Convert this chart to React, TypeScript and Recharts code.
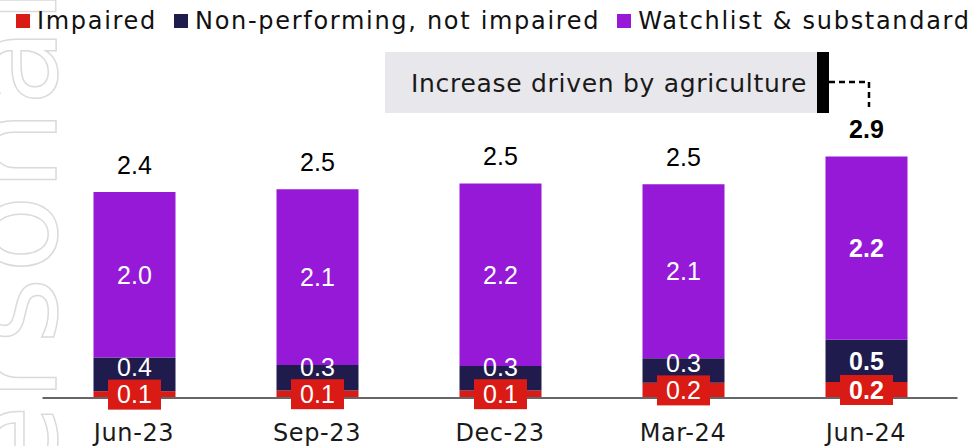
import { BarChart, Bar, XAxis, YAxis, LabelList } from "recharts";

// values in $bn
const periods = ["Jun-23", "Sep-23", "Dec-23", "Mar-24", "Jun-24"];
const impaired = [0.08, 0.09, 0.09, 0.18, 0.19];
const nonPerforming = [0.4, 0.3, 0.29, 0.29, 0.5];
const watchlist = [1.96, 2.08, 2.16, 2.06, 2.17];
const emphasised = [false, false, false, false, true];

const seriesNames = ["Impaired", "Non-performing, not impaired", "Watchlist & substandard"];
const seriesColors = ["#DA1A14", "#1F1C4D", "#9619D8"];
const annotation = "Increase driven by agriculture";

const data = periods.map((period, i) => ({
  period,
  impaired: impaired[i],
  nonPerforming: nonPerforming[i],
  watchlist: watchlist[i],
  total: impaired[i] + nonPerforming[i] + watchlist[i],
  bold: emphasised[i],
}));

const SANS = "'DejaVu Sans', sans-serif";
const NUM = "'Liberation Sans', Arial, sans-serif";
const NUM_SIZE = 25;

const fmt = (v: number) => v.toFixed(1);

function box(props: any) {
  const vb = props.viewBox && props.viewBox.width != null ? props.viewBox : props;
  return { x: Number(vb.x), y: Number(vb.y), width: Number(vb.width), height: Number(vb.height) };
}

function CenterLabel(props: any) {
  const { x, y, width, height } = box(props);
  const d = data[props.index];
  if (!d) return null;
  return (
    <text x={x + width / 2} y={y + height / 2 + NUM_SIZE * 0.355} textAnchor="middle" fill="#fff"
      fontFamily={NUM} fontSize={NUM_SIZE} fontWeight={d.bold ? 700 : 400}>
      {fmt(d.watchlist)}
    </text>
  );
}

function TotalLabel(props: any) {
  const { x, y, width } = box(props);
  const d = data[props.index];
  if (!d) return null;
  return (
    <text x={x + width / 2} y={y - 18} textAnchor="middle" fill="#000"
      fontFamily={NUM} fontSize={NUM_SIZE} fontWeight={d.bold ? 700 : 400}>
      {fmt(d.total)}
    </text>
  );
}

// labels of the two lower segments, hung off the top segment so they sit above bars and axis
function LowerLabels(props: any) {
  const { x, y, width, height } = box(props);
  const d = data[props.index];
  if (!d) return null;
  const ppu = height / d.watchlist;
  const base = y + height + (d.impaired + d.nonPerforming) * ppu;
  const redMid = base - (d.impaired * ppu) / 2;
  const boxTop = redMid - 15;
  const navyMid = Math.min(base - (d.impaired + d.nonPerforming / 2) * ppu, boxTop - 12);
  const cx = x + width / 2;
  const weight = d.bold ? 700 : 400;
  return (
    <g>
      <text x={cx} y={navyMid + NUM_SIZE * 0.355} textAnchor="middle" fill="#fff"
        fontFamily={NUM} fontSize={NUM_SIZE} fontWeight={weight}>
        {fmt(d.nonPerforming)}
      </text>
      <rect x={cx - 26.5} y={boxTop} width={53} height={30} fill={seriesColors[0]} />
      <text x={cx} y={redMid + NUM_SIZE * 0.355} textAnchor="middle" fill="#fff"
        fontFamily={NUM} fontSize={NUM_SIZE} fontWeight={weight}>
        {fmt(d.impaired)}
      </text>
    </g>
  );
}

function LegendRow() {
  return (
    <div style={{ position: "absolute", left: 16, top: 7, display: "flex", alignItems: "center", fontFamily: SANS, fontSize: 24, letterSpacing: 1.7, color: "#111", whiteSpace: "nowrap" }}>
      {seriesNames.map((name, i) => (
        <div key={name} style={{ display: "flex", alignItems: "center", marginRight: 17 }}>
          <span style={{ width: 14, height: 14, background: seriesColors[i], marginRight: 7, display: "inline-block" }} />
          <span>{name}</span>
        </div>
      ))}
    </div>
  );
}

export default function App() {
  return (
    <div style={{ position: "absolute", left: 0, top: 0, width: 971, height: 446, background: "#fff", overflow: "hidden" }}>
      <svg width={971} height={446} style={{ position: "absolute", left: 0, top: 0 }}>
        <text transform="translate(56, 560) rotate(-90)" fontFamily={SANS} fontSize={128} letterSpacing={4}
          fill="none" stroke="#dadada" strokeWidth={1.5}>
          Personal
        </text>
      </svg>
      <div style={{ position: "absolute", left: 0, top: 0 }}>
        <BarChart width={971} height={446} data={data} margin={{ top: 126, right: 13.5, left: 42.5, bottom: 0 }} barSize={82}>
          <XAxis dataKey="period" height={48} axisLine={{ stroke: "#666", strokeWidth: 2 }} tickLine={false}
            tickSize={0} tickMargin={26} interval={0}
            tick={{ fill: "#1a1a1a", fontSize: 24, fontFamily: SANS, letterSpacing: 0.6 }} />
          <YAxis hide domain={[0, 3.22]} />
          <Bar dataKey="impaired" stackId="a" fill={seriesColors[0]} isAnimationActive={false} />
          <Bar dataKey="nonPerforming" stackId="a" fill={seriesColors[1]} isAnimationActive={false} />
          <Bar dataKey="watchlist" stackId="a" fill={seriesColors[2]} isAnimationActive={false}>
            <LabelList dataKey="watchlist" content={CenterLabel} />
            <LabelList dataKey="total" content={TotalLabel} />
            <LabelList dataKey="impaired" content={LowerLabels} />
          </Bar>
        </BarChart>
      </div>
      <svg width={971} height={446} style={{ position: "absolute", left: 0, top: 0, pointerEvents: "none" }}>
        <rect x={385} y={52} width={432} height={61} fill="#E8E7EB" />
        <rect x={817} y={52} width={12} height={61} fill="#000" />
        <text x={609} y={92} textAnchor="middle" fontFamily={SANS} fontSize={25} letterSpacing={0.7} fill="#1a1a1a">{annotation}</text>
        <path d="M829 82 H869 V107" fill="none" stroke="#000" strokeWidth={2.5} strokeDasharray="6 4" />
      </svg>
      <LegendRow />
    </div>
  );
}
